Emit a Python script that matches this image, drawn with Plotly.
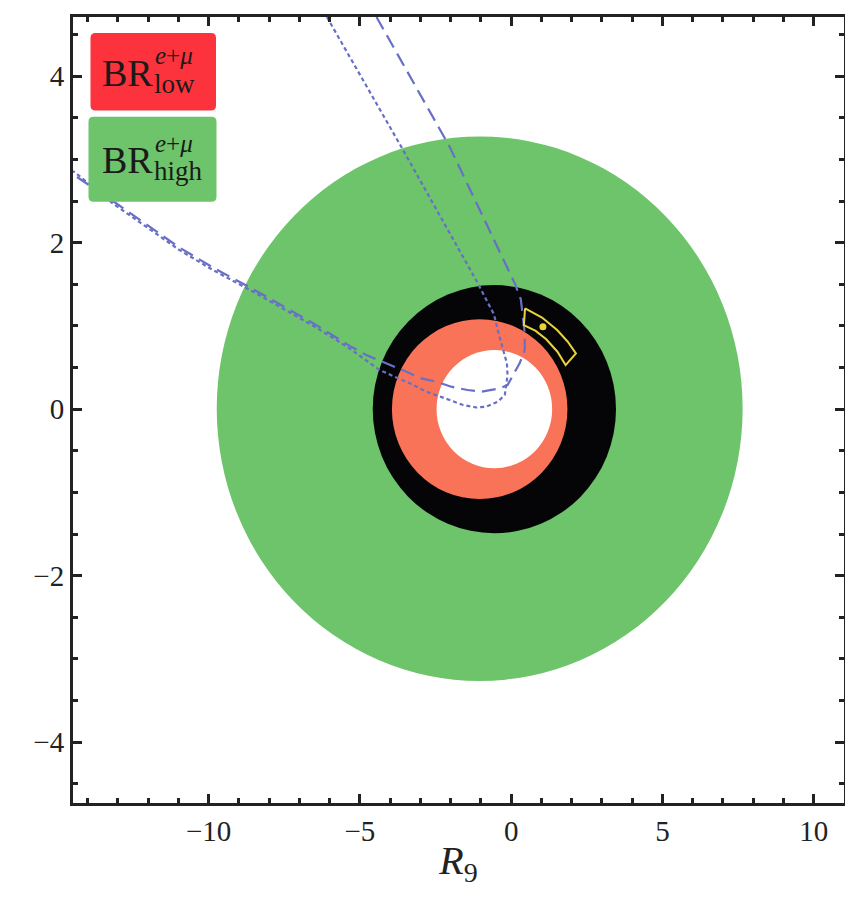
import plotly.graph_objects as go

# ---------------- data ----------------
x_range = [-14.48, 11.0]
y_range = [-4.73, 4.71]
x_tickvals = [-10, -5, 0, 5, 10]
x_ticktext = ["\u221210", "\u22125", "0", "5", "10"]
y_tickvals = [-4, -2, 0, 2, 4]
y_ticktext = ["\u22124", "\u22122", "0", "2", "4"]

# filled elliptical regions, drawn back to front
region_names = ["BR high (green)", "black band", "BR low (salmon)", "inner hole"]
region_cx = [-1.04, -0.555, -1.04, -0.555]
region_cy = [0.006, 0.0, 0.0, 0.0]
region_rx = [8.69, 4.02, 2.90, 1.91]
region_ry = [3.27, 1.49, 1.08, 0.71]
region_colors = ["#6DC46B", "#050508", "#F87358", "#FFFFFF"]

# dotted blue contour
dot_x = [-6.09, -3.63, -1.16, -0.57, -0.40, -0.27, -0.14, -0.12, -0.16, -0.21, -0.44,
         -0.82, -1.15, -1.59, -2.03, -2.36, -2.80, -3.35, -4.35, -5.34, -6.44, -8.42,
         -9.85, -10.96, -12.06, -13.16, -14.37, -14.48]
dot_y = [4.71, 3.15, 1.55, 1.14, 0.89, 0.71, 0.55, 0.41, 0.31, 0.17, 0.09,
         0.03, 0.02, 0.05, 0.11, 0.15, 0.21, 0.31, 0.47, 0.73, 0.98, 1.39,
         1.67, 1.91, 2.19, 2.47, 2.83, 2.86]

# long-dashed blue contour
dash_x = [-4.45, -2.03, 0.12, 0.32, 0.45, 0.45, 0.28, -0.12, -0.38, -0.98, -1.44,
          -1.98, -2.47, -2.97, -3.46, -4.79, -5.34, -6.44, -8.42, -9.85, -10.96,
          -12.06, -13.16, -14.48]
dash_y = [4.71, 3.15, 1.51, 1.32, 0.91, 0.71, 0.55, 0.29, 0.25, 0.21, 0.23,
          0.27, 0.33, 0.37, 0.45, 0.65, 0.76, 1.01, 1.42, 1.70, 1.94,
          2.22, 2.50, 2.82]

# yellow best-fit region contour and best-fit point
fit_x = [0.46, 1.02, 1.52, 1.87, 2.14, 1.80, 1.53, 1.16, 0.81, 0.42, 0.46]
fit_y = [1.21, 1.10, 0.95, 0.81, 0.67, 0.53, 0.69, 0.84, 0.94, 1.01, 1.21]
best_x = [1.05]
best_y = [0.99]

legend_labels = [("BR", "<i>e</i>+<i>\u03bc</i>", "low"),
                 ("BR", "<i>e</i>+<i>\u03bc</i>", "high")]
legend_colors = ["#FC333C", "#6DC46B"]

# ---------------- figure ----------------
# the page body has an 8px margin, so the figure is offset by 8px;
# keep the figure inside the body so no scrollbars appear
OFF = 8
W, H = 837, 880
ML, MR, MT, MB = 73 - OFF, 1, 17 - OFF, 85
PW, PH = W - ML - MR, H - MT - MB

fig = go.Figure()

shapes = []
for cx, cy, rx, ry, col in zip(region_cx, region_cy, region_rx, region_ry, region_colors):
    shapes.append(dict(type="circle", xref="x", yref="y",
                       x0=cx - rx, x1=cx + rx, y0=cy - ry, y1=cy + ry,
                       fillcolor=col, line=dict(width=0), layer="below"))

blue = "rgb(104,112,198)"
fig.add_trace(go.Scatter(x=dot_x, y=dot_y, mode="lines",
                         line=dict(color=blue, width=2.2, dash="4px,3px"),
                         hoverinfo="skip", showlegend=False))
fig.add_trace(go.Scatter(x=dash_x, y=dash_y, mode="lines",
                         line=dict(color=blue, width=2.2, dash="14px,7px"),
                         hoverinfo="skip", showlegend=False))
fig.add_trace(go.Scatter(x=fit_x, y=fit_y, mode="lines",
                         line=dict(color="#E8D43A", width=2),
                         hoverinfo="skip", showlegend=False))
fig.add_trace(go.Scatter(x=best_x, y=best_y, mode="markers",
                         marker=dict(color="#E8D43A", size=7),
                         hoverinfo="skip", showlegend=False))


# helpers converting page-pixel positions (as measured on the reference) to paper coords
def px2paper_x(px):
    return (px - OFF - ML) / PW


def px2paper_y(py):
    return (H - MB - (py - OFF)) / PH


def rounded_rect(x0, y0, x1, y1, r):
    rx = r / PW
    ry = r / PH
    X0, X1 = px2paper_x(x0), px2paper_x(x1)
    Y0, Y1 = px2paper_y(y1), px2paper_y(y0)
    return (f"M {X0+rx},{Y0} L {X1-rx},{Y0} Q {X1},{Y0} {X1},{Y0+ry} "
            f"L {X1},{Y1-ry} Q {X1},{Y1} {X1-rx},{Y1} L {X0+rx},{Y1} "
            f"Q {X0},{Y1} {X0},{Y1-ry} L {X0},{Y0+ry} Q {X0},{Y0} {X0+rx},{Y0} Z")


boxes = [(90.5, 33, 216, 110.5), (88.5, 116.7, 216.5, 201.7)]
annotations = []
serif = "Liberation Serif, Times New Roman, DejaVu Serif, serif"
for (bx0, by0, bx1, by1), col, (main, sup, sub) in zip(boxes, legend_colors, legend_labels):
    shapes.append(dict(type="path", xref="paper", yref="paper",
                       path=rounded_rect(bx0, by0, bx1, by1, 5),
                       fillcolor=col, line=dict(width=0), layer="above"))
    cy = (by0 + by1) / 2
    annotations.append(dict(xref="paper", yref="paper", x=px2paper_x(100), y=px2paper_y(cy + 1),
                            text=main, showarrow=False, xanchor="left", yanchor="middle",
                            font=dict(family=serif, size=38, color="#1a1a1a")))
    annotations.append(dict(xref="paper", yref="paper", x=px2paper_x(153), y=px2paper_y(cy - 16),
                            text=sup, showarrow=False, xanchor="left", yanchor="middle",
                            font=dict(family=serif, size=25, color="#1a1a1a")))
    annotations.append(dict(xref="paper", yref="paper", x=px2paper_x(152), y=px2paper_y(cy + 12),
                            text=sub, showarrow=False, xanchor="left", yanchor="middle",
                            font=dict(family=serif, size=27, color="#1a1a1a")))

axis_common = dict(showgrid=False, zeroline=False, showline=True, linewidth=3,
                   linecolor="#222222", mirror="allticks", ticks="inside",
                   ticklen=9, tickwidth=2.5, tickcolor="#222222", automargin=False,
                   tickfont=dict(family=serif, size=29, color="#222222"))

fig.update_layout(
    width=W, height=H,
    margin=dict(l=ML, r=MR, t=MT, b=MB, autoexpand=False),
    paper_bgcolor="white", plot_bgcolor="white",
    shapes=shapes, annotations=annotations,
    xaxis=dict(range=x_range, tickvals=x_tickvals, ticktext=x_ticktext,
               minor=dict(dtick=1, tick0=0, ticklen=5, tickwidth=2.5, tickcolor="#222222",
                          ticks="inside", showgrid=False),
               title=dict(text="<i>R</i><sub>9</sub>",
                          font=dict(family=serif, size=40, color="#222222"), standoff=4),
               **axis_common),
    yaxis=dict(range=y_range, tickvals=y_tickvals, ticktext=y_ticktext,
               minor=dict(dtick=0.5, tick0=0, ticklen=5, tickwidth=2.5, tickcolor="#222222",
                          ticks="inside", showgrid=False),
               **axis_common),
)

fig.write_html("out.html")
